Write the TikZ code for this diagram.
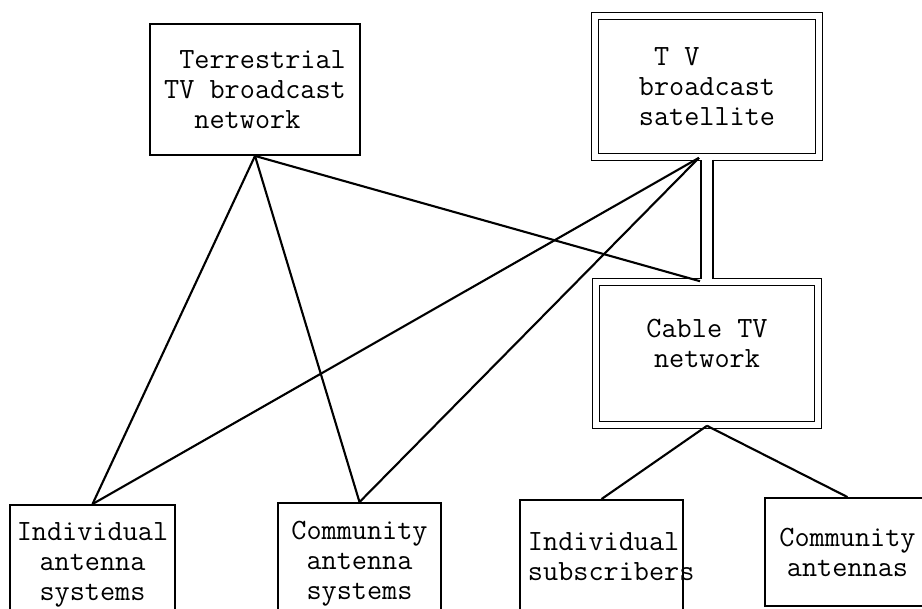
\documentclass[tikz,border=0pt]{standalone}
\usepackage{tikz}
\usetikzlibrary{calc}

\begin{document}
\begin{tikzpicture}[x=0.025cm, y=-0.025cm,
   box/.style={draw, line width=1.3pt, inner sep=0pt, align=center,
      font=\fontsize{20.9}{21.3}\selectfont\ttfamily},
   dbox/.style={box, line width=1.1pt, double, double distance=3.8pt},
   wire/.style={line width=1.5pt},
   pipe/.style={line width=1.2pt, double, double distance=7.5pt}]
   
   \useasboundingbox (0,0) rectangle (922,609);
   
   % the two sources on top
   \node[box, align=left, minimum width=5.25cm, minimum height=3.275cm] (terr) at (255,89.5)
      {\phantom{x}Terrestrial\\TV broadcast\\\phantom{xx}network};
   \node[dbox, align=left, minimum width=5.6cm, minimum height=3.525cm] (sat) at (707,86.5)
      {\phantom{x}T V\\broadcast\\satellite};
   
   % cable network in the middle
   \node[dbox, text depth=14pt, minimum width=5.55cm, minimum height=3.575cm] (cable) at (707,353.5)
      {Cable TV\\network};
   
   % receivers along the bottom
   \node[box, minimum width=4.125cm, minimum height=3cm] (indant) at (92.5,565)
      {Individual\\antenna\\systems};
   \node[box, minimum width=4.075cm, minimum height=3.05cm] (comant) at (359.5,564)
      {Community\\antenna\\systems};
   \node[box, align=left, text width=3.675cm, inner xsep=0.2cm, minimum height=2.825cm] (indsub) at (601.5,556.5)
      {Individual\\subscribers};
   \node[box, minimum width=4.125cm, minimum height=2.7cm] (comnet) at (847.5,552)
      {Community\\antennas};
   
   % links from the terrestrial network
   \draw[wire] (terr.south) -- (indant.north);
   \draw[wire] (terr.south) -- (comant.north);
   \draw[wire] (terr.south) -- ($(cable.north)+(-7,0)$);
   
   % links from the satellite
   \draw[wire] ($(sat.south)+(-8,0)$) -- (indant.north);
   \draw[wire] ($(sat.south)+(-8,0)$) -- (comant.north);
   \draw[pipe] ($(sat.south)+(0,2)$) -- ($(cable.north)+(0,-2)$);
   
   % cable distribution
   \draw[wire] (cable.south) -- (indsub.north);
   \draw[wire] (cable.south) -- (comnet.north);
   
\end{tikzpicture}
\end{document}
